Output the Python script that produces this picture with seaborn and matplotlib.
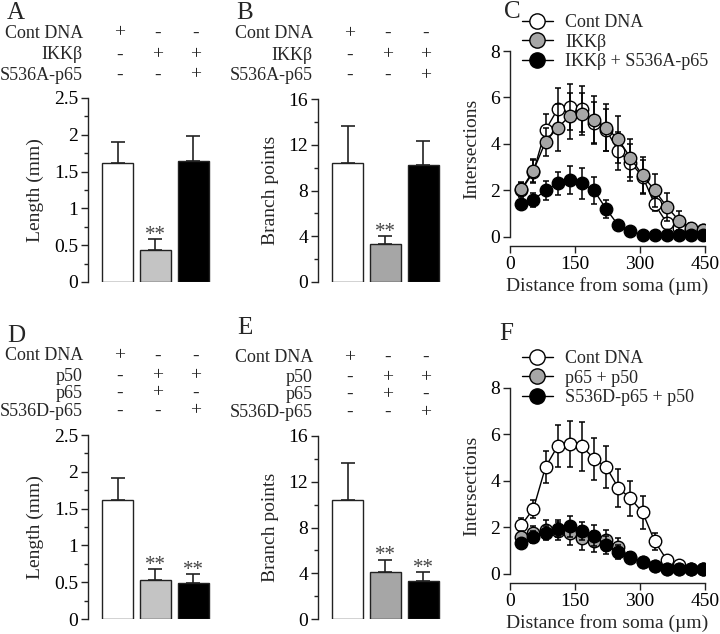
import numpy as np
import pandas as pd
import matplotlib
matplotlib.use('Agg')
import matplotlib.pyplot as plt
import matplotlib.transforms as mtransforms
from matplotlib.lines import Line2D
from matplotlib.ticker import AutoMinorLocator, FuncFormatter
import seaborn as sns


# # bar panels (A, B, D, E)
groups_top = ['Cont DNA', 'IKKb', 'IKKb + S536A-p65']
length_top = [1.62, 0.44, 1.65]
length_top_err = [0.28, 0.14, 0.34]
branch_top = [10.4, 3.3, 10.2]
branch_top_err = [3.2, 0.7, 2.1]
rows_top = ['Cont DNA', 'IKKβ', 'S536A-p65']
signs_top = [['+', '-', '-'], ['-', '+', '+'], ['-', '-', '+']]

groups_bot = ['Cont DNA', 'p65 + p50', 'S536D-p65 + p50']
length_bot = [1.62, 0.53, 0.49]
length_bot_err = [0.30, 0.15, 0.12]
branch_bot = [10.4, 4.1, 3.3]
branch_bot_err = [3.2, 1.1, 0.8]
rows_bot = ['Cont DNA', 'p50', 'p65', 'S536D-p65']
signs_bot = [['+', '-', '-'], ['-', '+', '+'], ['-', '+', '-'], ['-', '-', '+']]
stars = ['', '**', '**']
stars_top = ['', '**', '']

# # sholl panels (C, F)
dist = [26, 54, 82, 110, 138, 166, 194, 222, 250, 278, 306, 334, 362, 390, 418, 446]

c_cont = [2.0, 2.8, 4.6, 5.5, 5.6, 5.5, 4.9, 4.6, 3.7, 3.2, 2.6, 1.4, 0.6, 0.4, 0.3, 0.3]
c_cont_err = [0.3, 0.5, 0.7, 0.9, 1.0, 1.0, 0.9, 0.9, 0.8, 0.8, 0.7, 0.3, 0.2, 0.1, 0.1, 0.1]
c_ikk = [2.05, 2.85, 4.1, 4.7, 5.2, 5.3, 5.05, 4.7, 4.2, 3.4, 2.65, 2.0, 1.3, 0.7, 0.4, 0.3]
c_ikk_err = [0.3, 0.5, 0.6, 1.0, 1.0, 0.9, 1.0, 1.0, 1.0, 0.8, 0.8, 0.7, 0.6, 0.4, 0.2, 0.1]
c_s536a = [1.4, 1.6, 2.0, 2.3, 2.45, 2.3, 2.0, 1.2, 0.5, 0.25, 0.1, 0.1, 0.1, 0.1, 0.1, 0.1]
c_s536a_err = [0.1, 0.3, 0.4, 0.5, 0.6, 0.65, 0.6, 0.4, 0.1, 0.1, 0.05, 0.05, 0.05, 0.05, 0.05, 0.05]

f_cont = [2.1, 2.8, 4.6, 5.5, 5.6, 5.5, 4.95, 4.6, 3.7, 3.25, 2.65, 1.4, 0.6, 0.4, 0.2, 0.2]
f_cont_err = [0.3, 0.4, 0.7, 0.9, 1.0, 1.05, 0.9, 0.9, 0.8, 0.75, 0.7, 0.35, 0.1, 0.1, 0.1, 0.1]
f_p65 = [1.6, 1.75, 1.9, 1.85, 1.75, 1.55, 1.4, 1.45, 1.15, 0.7, 0.5, 0.35, 0.2, 0.2, 0.2, 0.2]
f_p65_err = [0.25, 0.3, 0.4, 0.4, 0.5, 0.5, 0.45, 0.45, 0.4, 0.2, 0.1, 0.1, 0.05, 0.05, 0.05, 0.05]
f_s536d = [1.35, 1.6, 1.75, 1.95, 2.05, 1.85, 1.65, 1.25, 0.95, 0.75, 0.5, 0.35, 0.2, 0.2, 0.2, 0.2]
f_s536d_err = [0.15, 0.25, 0.3, 0.35, 0.45, 0.4, 0.45, 0.4, 0.3, 0.2, 0.1, 0.1, 0.05, 0.05, 0.05, 0.05]


sns.set_style('ticks')
plt.rcParams['font.family'] = ['Liberation Serif', 'DejaVu Serif']
FS = 14      # ticks, axis labels
FT = 13      # row labels, legend
INK = '#222222'
W, H = 720, 634

fig = plt.figure(figsize=(7.2, 6.34), dpi=100)


def box(left, top, right, bottom):
    return [left / W, 1 - bottom / H, (right - left) / W, (bottom - top) / H]


def style_axis(ax):
    ax.tick_params(axis='both', which='major', direction='out', length=5, width=1,
                   color=INK, labelsize=FS, labelcolor='black', pad=2)
    ax.tick_params(axis='both', which='minor', direction='out', length=3, width=1, color=INK)
    ax.yaxis.set_major_formatter(FuncFormatter(lambda v, p: '%g' % v))
    for s in ax.spines.values():
        s.set_color(INK)
        s.set_linewidth(1)


def bar_panel(rect, groups, vals, errs, colors, ymax, yticks, ylabel, rows, signs, row_y, marks):
    ax = fig.add_axes(rect)
    df = pd.DataFrame({'g': groups, 'v': vals})
    sns.barplot(data=df, x='g', y='v', hue='g', palette=colors, legend=False,
                width=0.82, edgecolor=INK, linewidth=1, errorbar=None, ax=ax)
    ax.errorbar(range(3), vals, yerr=[np.zeros(3), errs], fmt='none', ecolor=INK,
                elinewidth=1.2, capsize=5, capthick=1.2, zorder=1)
    for i, m in enumerate(marks):
        if m:
            ax.annotate(m, xy=(i, vals[i] + errs[i]), xytext=(0, -4), textcoords='offset points',
                        ha='center', va='bottom', fontsize=FS + 1, color='#444444')
    ax.set_xlim(-0.78, 2.6)
    ax.set_ylim(0, ymax)
    ax.set_yticks(yticks)
    ax.yaxis.set_minor_locator(AutoMinorLocator(2))
    ax.set_xticks([])
    ax.set_xlabel('')
    ax.set_ylabel(ylabel, fontsize=FS, labelpad=7)
    sns.despine(ax=ax, bottom=True)
    style_axis(ax)
    trans = mtransforms.blended_transform_factory(ax.transData, ax.transAxes)
    for r, (name, sg) in enumerate(zip(rows, signs)):
        ax.text(-0.04, row_y[r], name, transform=ax.transAxes, ha='right', va='center', fontsize=FT)
        for i, s in enumerate(sg):
            ax.text(i + 0.05, row_y[r], s, transform=trans, ha='center', va='center', fontsize=FS)
    return ax


def sholl_panel(rect, series, labels, legend_xy, order):
    ax = fig.add_axes(rect)
    handles = []
    for k in order:
        y, e, fc = series[k]
        ax.errorbar(dist, y, yerr=e, fmt='none', ecolor='black', elinewidth=1.1,
                    capsize=2.5, capthick=1.1, zorder=2 + k)
        df = pd.DataFrame({'d': dist, 'y': y})
        sns.lineplot(data=df, x='d', y='y', color='black', lw=1, marker='o', markersize=9,
                     markerfacecolor=fc, markeredgecolor='black', markeredgewidth=1,
                     zorder=2 + k, ax=ax)
    for k in range(3):
        handles.append(Line2D([], [], color='black', lw=1, marker='o', markersize=11,
                              markerfacecolor=series[k][2], markeredgecolor='black'))
    ax.set_xlim(0, 450)
    ax.set_ylim(-0.39, 8)
    ax.set_xticks([0, 150, 300, 450])
    ax.set_yticks([0, 2, 4, 6, 8])
    ax.spines['left'].set_bounds(0, 8)
    ax.spines['bottom'].set_bounds(0, 450)
    sns.despine(ax=ax)
    style_axis(ax)
    ax.set_xlabel('Distance from soma (µm)', fontsize=FS, labelpad=3)
    ax.set_ylabel('Intersections', fontsize=FS, labelpad=7)
    fig.legend(handles, labels, loc='upper left', bbox_to_anchor=legend_xy,
               bbox_transform=fig.transFigure, frameon=False, fontsize=FT,
               handlelength=1.7, handletextpad=0.7, labelspacing=0.15,
               borderpad=0, borderaxespad=0)
    return ax


# A
bar_panel(box(88, 98, 216, 282), groups_top, length_top, length_top_err,
          ['white', '#c4c4c4', 'black'], 2.5, [0, 0.5, 1, 1.5, 2, 2.5], 'Length (mm)',
          rows_top, signs_top, [1.353, 1.234, 1.125], stars_top)
# B
bar_panel(box(318, 99, 446, 282), groups_top, branch_top, branch_top_err,
          ['white', '#a6a6a6', 'black'], 16, [0, 4, 8, 12, 16], 'Branch points',
          rows_top, signs_top, [1.359, 1.24, 1.13], stars_top)
# D
bar_panel(box(88, 435, 216, 619), groups_bot, length_bot, length_bot_err,
          ['white', '#c4c4c4', 'black'], 2.5, [0, 0.5, 1, 1.5, 2, 2.5], 'Length (mm)',
          rows_bot, signs_bot, [1.43, 1.32, 1.228, 1.13], stars)
# E
bar_panel(box(318, 436, 446, 619), groups_bot, branch_bot, branch_bot_err,
          ['white', '#a6a6a6', 'black'], 16, [0, 4, 8, 12, 16], 'Branch points',
          rows_bot, signs_bot, [1.43, 1.32, 1.228, 1.13], stars)

# C
sholl_panel(box(510, 51, 705, 246),
            [(c_cont, c_cont_err, 'white'), (c_ikk, c_ikk_err, '#a6a6a6'),
             (c_s536a, c_s536a_err, 'black')],
            ['Cont DNA', 'IKKβ', 'IKKβ + S536A-p65'], (522 / W, 1 - 14 / H), [0, 1, 2])
# F
sholl_panel(box(510, 388, 705, 583),
            [(f_cont, f_cont_err, 'white'), (f_p65, f_p65_err, '#a6a6a6'),
             (f_s536d, f_s536d_err, 'black')],
            ['Cont DNA', 'p65 + p50', 'S536D-p65 + p50'], (522 / W, 1 - 350 / H), [0, 2, 1])

# panel letters
for letter, x, y in [('A', 7, 2), ('B', 236, 2), ('C', 504, 1),
                     ('D', 7, 325), ('E', 237, 317), ('F', 499, 323)]:
    fig.text(x / W, 1 - y / H, letter, ha='left', va='top', fontsize=18)

fig.savefig('out.png', dpi=100)
